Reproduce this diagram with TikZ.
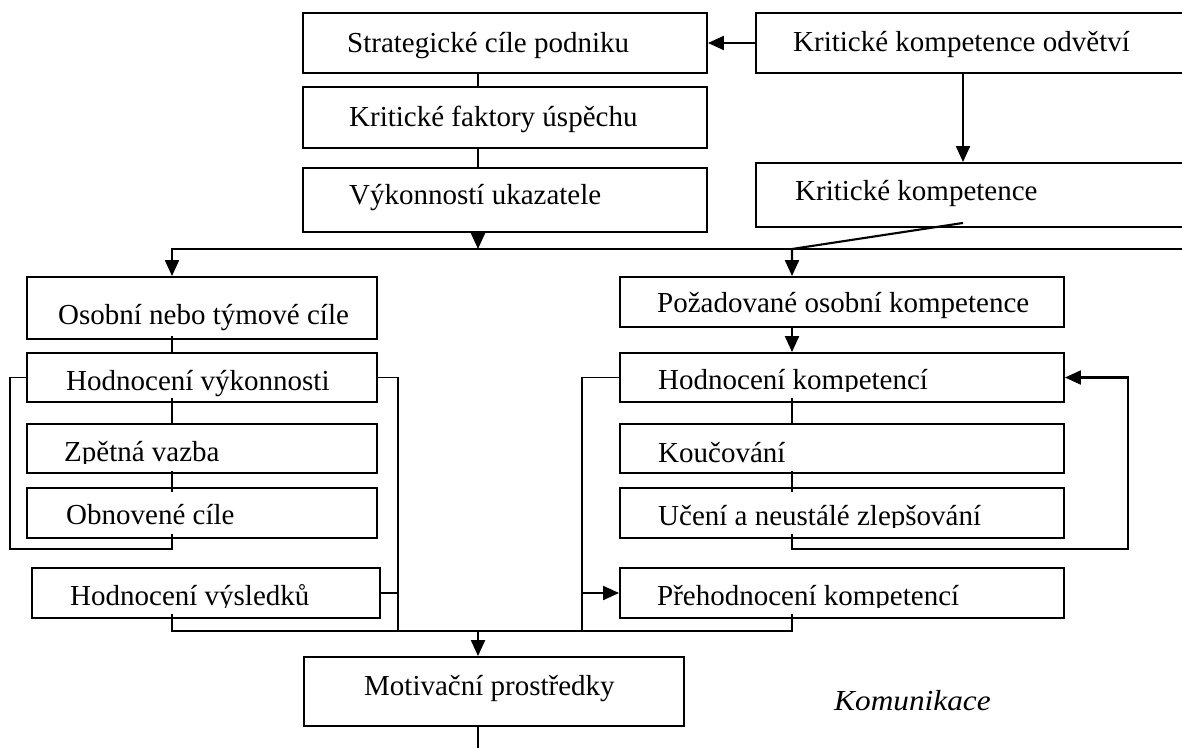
\documentclass[tikz,border=0pt]{standalone}
\usepackage{fontspec}
\setmainfont{Liberation Serif}
\usetikzlibrary{arrows.meta,calc}

% box given by its corners (x1,y1) and (x2,y2), y growing downwards
\newcommand\flowbox[5]{\node[blk, minimum width={(#4-#2)*1pt}, minimum height={(#5-#3)*1pt}] (#1) at ({(#2+#4)/2},{(#3+#5)/2}) {};}
% label set from its left end on the baseline
\newcommand\boxlabel[4]{\node[lbl] (#1) at (#2,#3) {#4};}
% label whose lower part is cut off at height #4
\newcommand\cutlabel[5]{\begin{scope}\clip ({#2-10},{#3-40}) rectangle ({#2+520},{#4});\node[lbl] (#1) at (#2,#3) {#5};\end{scope}}

\begin{document}
\begin{tikzpicture}[x=1pt,y=-1pt,
  blk/.style={draw, line width=1.9pt, inner sep=0pt, fill=white},
  lbl/.style={anchor=base west, inner sep=0pt, font=\fontsize{29}{34}\selectfont},
  conn/.style={line width=1.8pt},
  arr/.style={line width=2.1pt, -{Triangle[length=16pt,width=14pt]}}]
\useasboundingbox (0,0) rectangle (1182,747);

% column positions of the vertical connectors
\coordinate (cL) at (172,0);
\coordinate (cM) at (478,0);
\coordinate (cR) at (792,0);
\coordinate (cK) at (963,0);
\coordinate (busE) at (1195,249);
\coordinate (busT) at (0,249);
\coordinate (loopL) at (10,549);
\coordinate (loopR) at (1128,549);
\coordinate (jL) at (398,631);
\coordinate (jR) at (582,631);
\coordinate (busB) at (478,631);
\coordinate (endB) at (478,752);

% upper part
\flowbox{sc}{303}{13}{707}{73}
\flowbox{kf}{303}{87}{707}{148}
\flowbox{vu}{303}{168}{707}{232}
\flowbox{kko}{756}{13}{1195}{73}
\flowbox{kk}{756}{163}{1195}{227}
\boxlabel{sct}{347}{52}{Strategické cíle podniku}
\boxlabel{kft}{349}{126}{Kritické faktory úspěchu}
\boxlabel{vut}{349}{204}{Výkonností ukazatele}
\boxlabel{kkot}{793}{51}{Kritické kompetence odvětví}
\boxlabel{kkt}{795}{200}{Kritické kompetence}

% left column
\flowbox{on}{27}{277}{377}{339}
\flowbox{hv}{27}{353}{377}{402}
\flowbox{zv}{27}{424}{377}{473}
\flowbox{oc}{27}{488}{377}{538}
\flowbox{hvy}{32}{568}{380}{618}
\boxlabel{ont}{58}{324}{Osobní nebo týmové cíle}
\boxlabel{hvt}{66}{390}{Hodnocení výkonnosti}
\cutlabel{zvt}{64}{461}{463}{Zpětná vazba}
\boxlabel{oct}{66}{524}{Obnovené cíle}
\cutlabel{hvyt}{70}{605}{607}{Hodnocení výsledků}

% right column
\flowbox{po}{620}{277}{1064}{327}
\flowbox{hk}{620}{353}{1064}{402}
\flowbox{ko}{620}{424}{1064}{473}
\flowbox{un}{620}{488}{1064}{538}
\flowbox{ph}{620}{568}{1064}{618}
\boxlabel{pot}{657}{312}{Požadované osobní kompetence}
\cutlabel{hkt}{658}{389}{391}{Hodnocení kompetencí}
\boxlabel{kot}{658}{462}{Koučování}
\cutlabel{unt}{658}{525}{527}{Učení a neustálé zlepšování}
\cutlabel{pht}{657}{605}{607}{Přehodnocení kompetencí}

% bottom
\flowbox{mp}{304}{657}{684}{726}
\boxlabel{mpt}{364}{695}{Motivační prostředky}
\node[lbl, font=\fontsize{29}{34}\selectfont\itshape] (kom) at (834,710) {\scalebox{1.08}[1]{Komunikace}};

% connectors of the upper part
\draw[arr] (kko.west) -- (sc.east);
\draw[conn] (sc.south -| cM) -- (kf.north -| cM);
\draw[conn] (kf.south -| cM) -- (vu.north -| cM);
\draw[arr] (vu.south -| cM) -- (cM |- busT);
\draw[arr] (kko.south -| cK) -- (kk.north -| cK);
\draw[arr] ($(kk.south -| cK)+(0,-5)$) -- (cR |- busT) -- (po.north -| cR);
\draw[arr] (busE) -| (on.north -| cL);

% left column
\draw[conn, shorten <=-4pt] (on.south -| cL) -- (hv.north -| cL);
\draw[conn, shorten <=-5pt] (hv.south -| cL) -- (zv.north -| cL);
\draw[conn, shorten <=-3pt, shorten >=-5pt] (zv.south -| cL) -- (oc.north -| cL);
\draw[conn, shorten <=-5pt] (oc.south -| cL) |- (loopL) |- (hv.west);
\draw[conn] (hv.east) -| (jL);
\draw[conn] (hvy.east) -- (hvy.east -| jL);
\draw[conn, shorten <=-5pt] (hvy.south -| cL) |- (busB);

% right column
\draw[arr] (po.south -| cR) -- (hk.north -| cR);
\draw[conn, shorten <=-5pt] (hk.south -| cR) -- (ko.north -| cR);
\draw[conn, shorten <=-3pt, shorten >=-5pt] (ko.south -| cR) -- (un.north -| cR);
\draw[arr, shorten <=-5pt] (un.south -| cR) |- (loopR) |- (hk.east);
\draw[conn] (hk.west) -| (jR);
\draw[arr] (jR |- ph.west) -- (ph.west);
\draw[conn, shorten <=-5pt] (ph.south -| cR) |- (busB);

% bottom
\draw[arr] (busB) -- (mp.north -| busB);
\draw[conn] (mp.south -| cM) -- (endB);
\end{tikzpicture}
\end{document}
